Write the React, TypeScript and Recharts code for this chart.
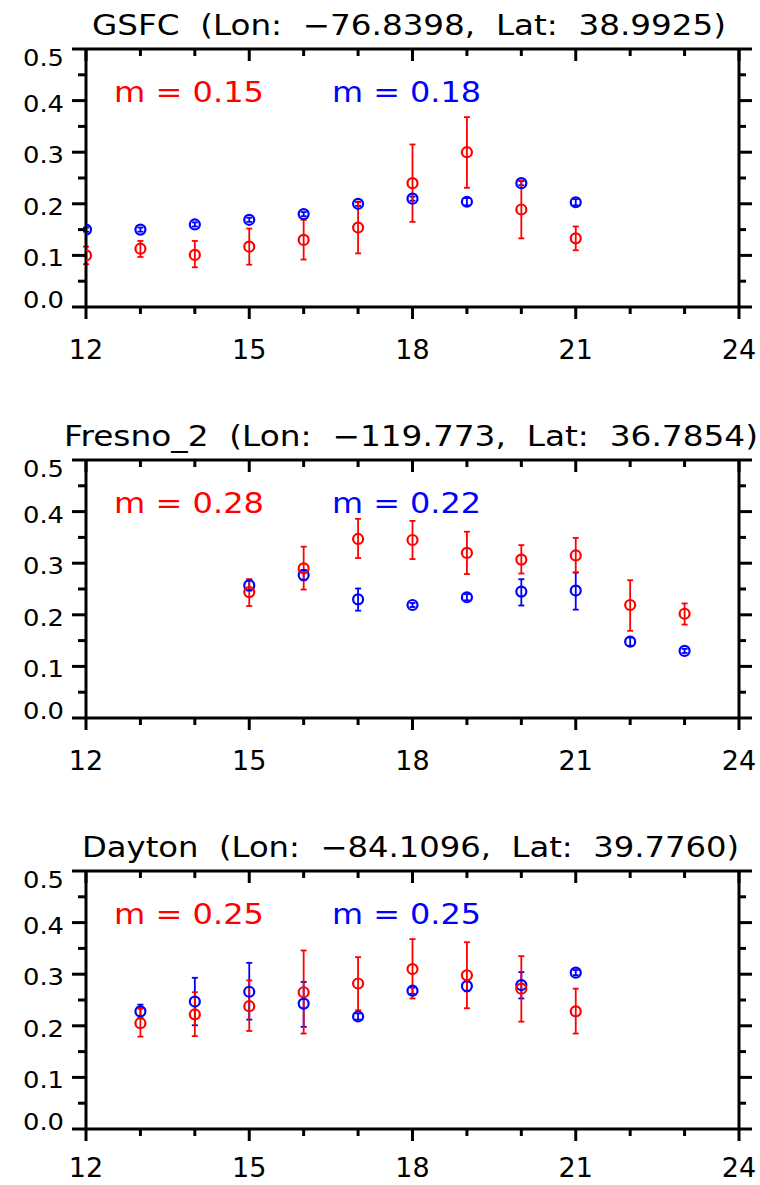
import { ScatterChart, Scatter, XAxis, YAxis, ErrorBar } from 'recharts';

document.body.style.margin = '0';

const FONT = '"DejaVu Sans", sans-serif';
const RED = '#ff0000';
const BLUE = '#0000ff';

// axis ticks
const hourTicks = [12, 13, 14, 15, 16, 17, 18, 19, 20, 21, 22, 23, 24];
const yTicks = [0, 0.05, 0.1, 0.15, 0.2, 0.25, 0.3, 0.35, 0.4, 0.45, 0.5];

// GSFC
const gsfcHours = [12, 13, 14, 15, 16, 17, 18, 19, 20, 21];
const gsfcRed = [0.100, 0.113, 0.101, 0.117, 0.130, 0.154, 0.240, 0.300, 0.189, 0.133];
const gsfcRedLo = [0.083, 0.097, 0.077, 0.082, 0.092, 0.104, 0.165, 0.231, 0.133, 0.110];
const gsfcRedHi = [0.117, 0.128, 0.128, 0.152, 0.169, 0.203, 0.315, 0.368, 0.245, 0.156];
const gsfcBlue = [0.150, 0.150, 0.160, 0.169, 0.180, 0.200, 0.210, 0.204, 0.240, 0.203];
const gsfcBlueLo = [0.146, 0.146, 0.156, 0.165, 0.176, 0.196, 0.206, 0.197, 0.236, 0.197];
const gsfcBlueHi = [0.154, 0.154, 0.164, 0.173, 0.184, 0.204, 0.214, 0.211, 0.244, 0.209];

// Fresno_2
const fresnoHours = [15, 16, 17, 18, 19, 20, 21, 22, 23];
const fresnoRed = [0.244, 0.290, 0.347, 0.345, 0.320, 0.307, 0.315, 0.219, 0.202];
const fresnoRedLo = [0.217, 0.249, 0.310, 0.308, 0.279, 0.280, 0.282, 0.169, 0.181];
const fresnoRedHi = [0.269, 0.332, 0.386, 0.382, 0.361, 0.335, 0.349, 0.267, 0.222];
const fresnoBlue = [0.257, 0.277, 0.230, 0.219, 0.234, 0.245, 0.247, 0.148, 0.130];
const fresnoBlueLo = [0.247, 0.267, 0.208, 0.215, 0.228, 0.218, 0.210, 0.140, 0.126];
const fresnoBlueHi = [0.268, 0.287, 0.251, 0.223, 0.240, 0.269, 0.282, 0.156, 0.134];

// Dayton
const daytonHours = [13, 14, 15, 16, 17, 18, 19, 20, 21];
const daytonRed = [0.205, 0.222, 0.238, 0.265, 0.282, 0.310, 0.298, 0.272, 0.228];
const daytonRedLo = [0.179, 0.180, 0.190, 0.185, 0.230, 0.253, 0.234, 0.208, 0.185];
const daytonRedHi = [0.233, 0.265, 0.288, 0.346, 0.333, 0.368, 0.362, 0.335, 0.272];
const daytonBlue = [0.228, 0.247, 0.266, 0.243, 0.218, 0.268, 0.277, 0.279, 0.303];
const daytonBlueLo = [0.215, 0.201, 0.212, 0.198, 0.212, 0.262, 0.267, 0.253, 0.298];
const daytonBlueHi = [0.241, 0.293, 0.322, 0.285, 0.224, 0.274, 0.287, 0.304, 0.308];

const rows = (hours: number[], vals: number[], lo: number[], hi: number[]) =>
  hours.map((h, i) => ({ hour: h, v: vals[i], err: [vals[i] - lo[i], hi[i] - vals[i]] }));

const panels = [
  {
    title: 'GSFC  (Lon:  \u221276.8398,  Lat:  38.9925)',
    titleX: 409,
    titleW: 634,
    mRed: '0.15',
    mBlue: '0.18',
    red: rows(gsfcHours, gsfcRed, gsfcRedLo, gsfcRedHi),
    blue: rows(gsfcHours, gsfcBlue, gsfcBlueLo, gsfcBlueHi),
  },
  {
    title: 'Fresno_2  (Lon:  \u2212119.773,  Lat:  36.7854)',
    titleX: 411,
    titleW: 694,
    mRed: '0.28',
    mBlue: '0.22',
    red: rows(fresnoHours, fresnoRed, fresnoRedLo, fresnoRedHi),
    blue: rows(fresnoHours, fresnoBlue, fresnoBlueLo, fresnoBlueHi),
  },
  {
    title: 'Dayton  (Lon:  \u221284.1096,  Lat:  39.7760)',
    titleX: 410.5,
    titleW: 657,
    mRed: '0.25',
    mBlue: '0.25',
    red: rows(daytonHours, daytonRed, daytonRedLo, daytonRedHi),
    blue: rows(daytonHours, daytonBlue, daytonBlueLo, daytonBlueHi),
  },
];

const LeftTick = (props: any) => {
  const { x, y, payload } = props;
  const v = payload.value;
  const major = Math.round(v * 100) % 10 === 0;
  let dy = 11;
  if (v > 0.49) dy = 17;
  if (v < 0.01) dy = 0.5;
  return (
    <g>
      <line x1={x - (major ? 14 : 8)} x2={x} y1={y} y2={y} stroke="#000" strokeWidth={3} />
      {major && (
        <text x={x - 22} y={y + dy} textAnchor="end" fontSize={23} fontFamily={FONT} fill="#000"
          textLength={41} lengthAdjust="spacingAndGlyphs">
          {v.toFixed(1)}
        </text>
      )}
    </g>
  );
};

const RightTick = (props: any) => {
  const { x, y, payload } = props;
  const major = Math.round(payload.value * 100) % 10 === 0;
  return <line x1={x} x2={x + (major ? 13 : 7)} y1={y} y2={y} stroke="#000" strokeWidth={3} />;
};

const bottomTick = (labelDy: number) => (props: any) => {
  const { x, y, payload } = props;
  const major = (payload.value - 12) % 3 === 0;
  return (
    <g>
      <line x1={x} x2={x} y1={y} y2={y + (major ? 12 : 7)} stroke="#000" strokeWidth={3} />
      {major && (
        <text x={x} y={y + labelDy} textAnchor="middle" fontSize={27} fontFamily={FONT} fill="#000">
          {payload.value}
        </text>
      )}
    </g>
  );
};

const TopTick = (props: any) => {
  const { x, y, payload } = props;
  const major = (payload.value - 12) % 3 === 0;
  return <line x1={x} x2={x} y1={y} y2={y + (major ? 12 : 7)} stroke="#000" strokeWidth={3} />;
};

const ring = (color: string) => (p: any) => (
  <circle cx={p.cx} cy={p.cy} r={5} fill="none" stroke={color} strokeWidth={2.2} />
);

const axisLine = { stroke: '#000', strokeWidth: 3 };

// each panel: 49px above the plot, 258px plot, room for the hour labels below
function Panel({ p, height, labelDy }: { p: any; height: number; labelDy: number }) {
  return (
    <ScatterChart width={760} height={height} margin={{ top: 0, right: 0, bottom: 0, left: 0 }}>
      <XAxis xAxisId="b" orientation="bottom" type="number" dataKey="hour" domain={[12, 24]}
        ticks={hourTicks} interval={0} height={height - 49 - 258} tickSize={0} tickMargin={0} tickLine={false}
        axisLine={axisLine} tick={bottomTick(labelDy)} allowDataOverflow />
      <XAxis xAxisId="t" orientation="top" type="number" dataKey="hour" domain={[12, 24]}
        ticks={hourTicks} interval={0} height={49} tickSize={0} tickMargin={0} tickLine={false}
        axisLine={axisLine} tick={TopTick} allowDataOverflow />
      <YAxis yAxisId="l" orientation="left" type="number" dataKey="v" domain={[0, 0.5]}
        ticks={yTicks} interval={0} width={86} tickSize={0} tickMargin={0} tickLine={false}
        axisLine={axisLine} tick={LeftTick} allowDataOverflow />
      <YAxis yAxisId="r" orientation="right" type="number" dataKey="v" domain={[0, 0.5]}
        ticks={yTicks} interval={0} width={21} tickSize={0} tickMargin={0} tickLine={false}
        axisLine={axisLine} tick={RightTick} allowDataOverflow />
      <Scatter xAxisId="b" yAxisId="l" data={p.blue} shape={ring(BLUE)} isAnimationActive={false}>
        <ErrorBar dataKey="err" direction="y" width={3} stroke={BLUE} strokeWidth={1.8} isAnimationActive={false} />
      </Scatter>
      <Scatter xAxisId="b" yAxisId="l" data={p.red} shape={ring(RED)} isAnimationActive={false}>
        <ErrorBar dataKey="err" direction="y" width={3} stroke={RED} strokeWidth={1.8} isAnimationActive={false} />
      </Scatter>
    </ScatterChart>
  );
}

export default function App() {
  return (
    <div style={{ position: 'relative', width: 760, height: 1185, background: '#fff', overflow: 'hidden' }}>
      {panels.map((p, i) => (
        <div key={i} style={{ position: 'absolute', left: 0, top: i * 411 }}>
          <Panel p={p} height={i < 2 ? 411 : 363} labelDy={i < 2 ? 52 : 48} />
        </div>
      ))}
      <svg width={760} height={1185} style={{ position: 'absolute', left: 0, top: 0, pointerEvents: 'none' }}>
        {panels.map((p, i) => (
          <g key={i} transform={`translate(0, ${i * 411})`} fontFamily={FONT} fontSize={28}>
            <text x={p.titleX} y={35} textAnchor="middle" fill="#000" textLength={p.titleW}
              lengthAdjust="spacingAndGlyphs" xmlSpace="preserve" style={{ whiteSpace: 'pre' }}>
              {p.title}
            </text>
            <text x={114} y={101.5} fill={RED} textLength={150} lengthAdjust="spacingAndGlyphs"
              xmlSpace="preserve" style={{ whiteSpace: 'pre' }}>
              {`m = ${p.mRed}`}
            </text>
            <text x={332} y={101.5} fill={BLUE} textLength={149} lengthAdjust="spacingAndGlyphs"
              xmlSpace="preserve" style={{ whiteSpace: 'pre' }}>
              {`m = ${p.mBlue}`}
            </text>
          </g>
        ))}
      </svg>
    </div>
  );
}
